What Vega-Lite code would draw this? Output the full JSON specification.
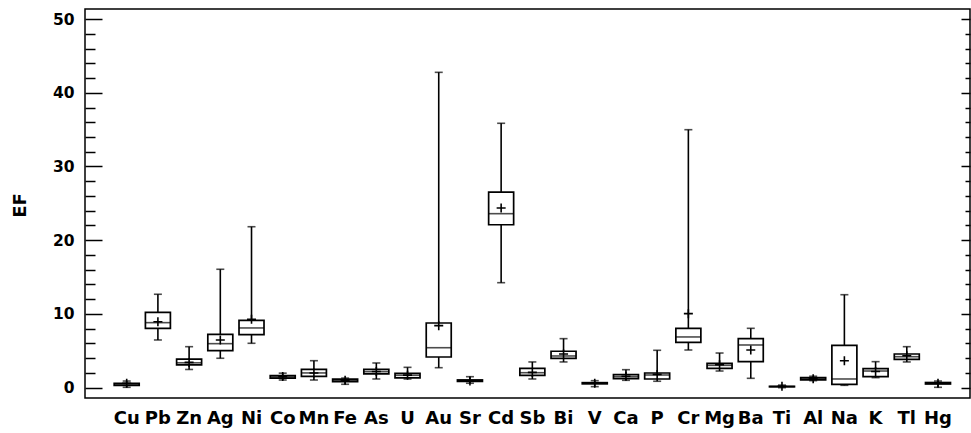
{
  "$schema": "https://vega.github.io/schema/vega-lite/v6.json",
  "autosize": {"type": "none"},
  "padding": {"left": 85, "top": 9, "right": 1, "bottom": 35},
  "width": 885,
  "height": 389,
  "background": "white",
  "config": {
    "view": {"stroke": "black", "strokeWidth": 1.5},
    "axis": {"grid": false}
  },
  "data": {
    "values": [
      {"element": "Cu", "min": 0.05, "q1": 0.3, "median": 0.45, "q3": 0.6, "max": 0.9, "mean": 0.6},
      {"element": "Pb", "min": 6.47, "q1": 8.05, "median": 8.82, "q3": 10.22, "max": 12.67, "mean": 8.95},
      {"element": "Zn", "min": 2.47, "q1": 3.08, "median": 3.37, "q3": 3.87, "max": 5.56, "mean": 3.43},
      {"element": "Ag", "min": 3.99, "q1": 5.02, "median": 5.97, "q3": 7.24, "max": 16.06, "mean": 6.47},
      {"element": "Ni", "min": 6.02, "q1": 7.19, "median": 8.1, "q3": 9.14, "max": 21.83, "mean": 9.27},
      {"element": "Co", "min": 1.04, "q1": 1.29, "median": 1.45, "q3": 1.63, "max": 1.97, "mean": 1.5},
      {"element": "Mn", "min": 1.04, "q1": 1.54, "median": 2.0, "q3": 2.49, "max": 3.66, "mean": 2.0},
      {"element": "Fe", "min": 0.46, "q1": 0.81, "median": 0.98, "q3": 1.16, "max": 1.3, "mean": 1.02},
      {"element": "As", "min": 1.18, "q1": 1.86, "median": 2.17, "q3": 2.49, "max": 3.35, "mean": 2.2},
      {"element": "U", "min": 1.18, "q1": 1.32, "median": 1.68, "q3": 1.95, "max": 2.76, "mean": 1.7},
      {"element": "Au", "min": 2.71, "q1": 4.16, "median": 5.42, "q3": 8.77, "max": 42.77, "mean": 8.41},
      {"element": "Sr", "min": 0.6, "q1": 0.85, "median": 0.95, "q3": 1.05, "max": 1.49, "mean": 0.9},
      {"element": "Cd", "min": 14.24, "q1": 22.1, "median": 23.6, "q3": 26.51, "max": 35.86, "mean": 24.37},
      {"element": "Sb", "min": 1.18, "q1": 1.68, "median": 2.03, "q3": 2.63, "max": 3.49, "mean": 2.07},
      {"element": "Bi", "min": 3.49, "q1": 3.98, "median": 4.3, "q3": 4.94, "max": 6.65, "mean": 4.57},
      {"element": "V", "min": 0.14, "q1": 0.52, "median": 0.6, "q3": 0.68, "max": 0.95, "mean": 0.6},
      {"element": "Ca", "min": 1.0, "q1": 1.22, "median": 1.49, "q3": 1.76, "max": 2.44, "mean": 1.55},
      {"element": "P", "min": 0.87, "q1": 1.18, "median": 1.72, "q3": 1.99, "max": 5.07, "mean": 1.8},
      {"element": "Cr", "min": 5.11, "q1": 6.15, "median": 6.88, "q3": 8.05, "max": 34.99, "mean": 10.04},
      {"element": "Mg", "min": 2.26, "q1": 2.63, "median": 3.03, "q3": 3.3, "max": 4.7, "mean": 3.12},
      {"element": "Ba", "min": 1.27, "q1": 3.53, "median": 5.79, "q3": 6.65, "max": 8.05, "mean": 5.11},
      {"element": "Ti", "min": 0.0, "q1": 0.12, "median": 0.15, "q3": 0.18, "max": 0.35, "mean": 0.2},
      {"element": "Al", "min": 0.95, "q1": 1.05, "median": 1.2, "q3": 1.35, "max": 1.55, "mean": 1.2},
      {"element": "Na", "min": 0.32, "q1": 0.46, "median": 1.18, "q3": 5.75, "max": 12.61, "mean": 3.66},
      {"element": "K", "min": 1.36, "q1": 1.49, "median": 2.26, "q3": 2.58, "max": 3.53, "mean": 2.2},
      {"element": "Tl", "min": 3.49, "q1": 3.85, "median": 4.2, "q3": 4.57, "max": 5.56, "mean": 4.34},
      {"element": "Hg", "min": 0.05, "q1": 0.5, "median": 0.6, "q3": 0.7, "max": 0.9, "mean": 0.6}
    ]
  },
  "resolve": {"axis": {"y": "independent"}},
  "layer": [
    {
      "mark": {"type": "rule", "opacity": 0},
      "encoding": {
        "y": {
          "field": "median",
          "type": "quantitative",
          "scale": {"domain": [-1.4, 51.36], "nice": false, "zero": false},
          "axis": {
            "orient": "left",
            "title": "EF",
            "values": [0, 2, 4, 6, 8, 10, 12, 14, 16, 18, 20, 22, 24, 26, 28, 30, 32, 34, 36, 38, 40, 42, 44, 46, 48, 50],
            "labelExpr": "datum.value % 10 === 0 ? datum.label : ''",
            "domain": false,
            "grid": false,
            "tickColor": "black",
            "tickWidth": 1.5,
            "tickSize": {"condition": {"test": "datum.value % 10 === 0", "value": -17}, "value": -10},
            "labelFont": "DejaVu Sans",
            "labelFontWeight": "bold",
            "labelFontSize": 15.5,
            "labelColor": "black",
            "labelPadding": 28,
            "titleFont": "DejaVu Sans",
            "titleFontWeight": "bold",
            "titleFontSize": 18,
            "titleColor": "black",
            "titleX": -65,
            "titleY": 196,
            "titleAngle": -90,
            "titleAlign": "center",
            "titleBaseline": "middle"
          }
        }
      }
    },
    {
      "mark": {"type": "rule", "opacity": 0},
      "encoding": {
        "y": {
          "field": "median",
          "type": "quantitative",
          "axis": {
            "orient": "right",
            "title": null,
            "labels": false,
            "domain": false,
            "grid": false,
            "values": [0, 2, 4, 6, 8, 10, 12, 14, 16, 18, 20, 22, 24, 26, 28, 30, 32, 34, 36, 38, 40, 42, 44, 46, 48, 50],
            "tickColor": "black",
            "tickWidth": 1.5,
            "tickSize": {"condition": {"test": "datum.value % 10 === 0", "value": -9}, "value": -5}
          }
        }
      }
    },
    {
      "encoding": {
        "x": {
          "field": "element",
          "type": "nominal",
          "sort": null,
          "scale": {"type": "band", "paddingInner": 0, "paddingOuter": 0.681, "align": 0.614},
          "axis": {
            "orient": "bottom",
            "title": null,
            "domain": false,
            "ticks": false,
            "labelAngle": 0,
            "labelOverlap": false,
            "labelFont": "DejaVu Sans",
            "labelFontWeight": "bold",
            "labelFontSize": 18,
            "labelColor": "black",
            "labelPadding": 11
          }
        }
      },
      "layer": [
        {
          "mark": {"type": "rule", "color": "black", "strokeWidth": 1.6},
          "encoding": {
            "y": {"field": "min", "type": "quantitative", "axis": null},
            "y2": {"field": "max"}
          }
        },
        {
          "mark": {"type": "tick", "color": "black", "size": 8, "thickness": 1.6},
          "encoding": {"y": {"field": "min", "type": "quantitative", "axis": null}}
        },
        {
          "mark": {"type": "tick", "color": "black", "size": 8, "thickness": 1.6},
          "encoding": {"y": {"field": "max", "type": "quantitative", "axis": null}}
        },
        {
          "mark": {"type": "bar", "size": 25, "fill": "white", "stroke": "black", "strokeWidth": 1.7},
          "encoding": {
            "y": {"field": "q1", "type": "quantitative", "axis": null},
            "y2": {"field": "q3"}
          }
        },
        {
          "mark": {"type": "tick", "color": "black", "size": 25, "thickness": 1.6},
          "encoding": {"y": {"field": "median", "type": "quantitative", "axis": null}}
        },
        {
          "mark": {"type": "point", "shape": "M-1,0H1M0,-1V1", "filled": false, "stroke": "black", "strokeWidth": 1.6, "size": 81, "opacity": 1},
          "encoding": {"y": {"field": "mean", "type": "quantitative", "axis": null}}
        }
      ]
    }
  ]
}
